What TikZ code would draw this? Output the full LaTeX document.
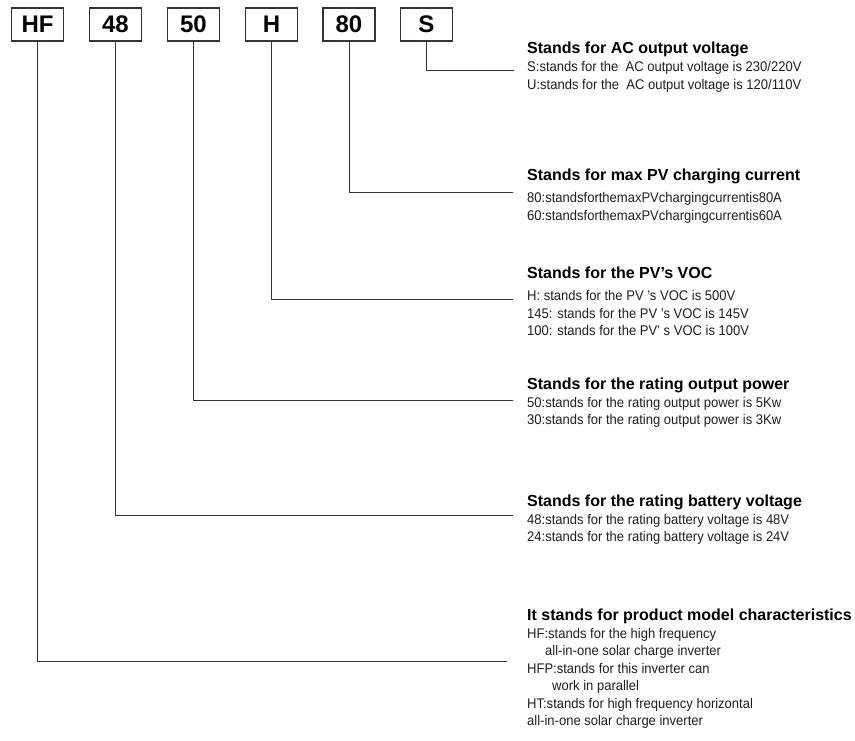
\documentclass[tikz,border=0pt]{standalone}
\usepackage{fontspec}
\setmainfont{Liberation Sans}
\newfontfamily\bodyfont[FakeStretch=0.93]{Liberation Sans}
\usetikzlibrary{positioning}
\usepackage{xcolor}
\definecolor{wire}{HTML}{3A3232}
\tikzset{
  codebox/.style = {rectangle, draw=wire, line width=1.3pt, inner sep=0pt,
                    minimum width=52pt, minimum height=33pt,
                    font=\fontsize{24}{28}\selectfont\bfseries},
  head/.style    = {anchor=base west, inner sep=0pt,
                    font=\fontsize{16}{18}\selectfont\bfseries},
  desc/.style    = {anchor=north west, inner sep=0pt, align=left,
                    font=\bodyfont\fontsize{14}{17.5}\selectfont, text=black!88},
  link/.style    = {draw=wire, line width=1pt},
}

\begin{document}
\begin{tikzpicture}[x=1pt,y=-1pt]
    \useasboundingbox (0,0) rectangle (855,740);
    % code boxes
    \node[codebox] (hf)  at (37.5,24.5)  {HF};
    \node[codebox] (bat) at (115.5,24.5) {48};
    \node[codebox] (pow) at (193.5,24.5) {50};
    \node[codebox] (voc) at (271.5,24.5) {H};
    \node[codebox] (cur) at (349,24.5)   {80};
    \node[codebox] (ac)  at (426.5,24.5) {S};
    % explanations
    \node[head] (acHead) at (527,53.5) {Stands for AC output voltage};
    \node[desc] (acText) at (527,59.5) {\strut S:stands for the\ \ AC output voltage is 230/220V\\
      \strut U:stands for the\ \ AC output voltage is 120/110V};
    \node[head] (curHead) at (527,180.7) {Stands for max PV charging current};
    \node[desc] (curText) at (527,190.5) {\strut 80:standsforthemaxPVchargingcurrentis80A\\
      \strut 60:standsforthemaxPVchargingcurrentis60A};
    \node[head] (vocHead) at (527,278.3) {Stands for the PV’s VOC};
    \node[desc] (vocText) at (527,288.5) {\strut H: stands for the PV ’s VOC is 500V\\
      \strut 145: stands for the PV ’s VOC is 145V\\
      \strut 100: stands for the PV’ s VOC is 100V};
    \node[head] (powHead) at (527,389.3) {Stands for the rating output power};
    \node[desc] (powText) at (527,395) {\strut 50:stands for the rating output power is 5Kw\\
      \strut 30:stands for the rating output power is 3Kw};
    \node[head] (batHead) at (527,506) {Stands for the rating battery voltage};
    \node[desc] (batText) at (527,511.8) {\strut 48:stands for the rating battery voltage is 48V\\
      \strut 24:stands for the rating battery voltage is 24V};
    \node[head] (hfHead) at (527,620.7) {It stands for product model characteristics};
    \node[desc] (hfText) at (527,626) {\strut HF:stands for the high frequency\\
      \strut\hspace{18pt}all-in-one solar charge inverter\\
      \strut HFP:stands for this inverter can\\
      \strut\hspace{25pt}work in parallel\\
      \strut HT:stands for high frequency horizontal\\
      \strut all-in-one solar charge inverter};
    % leader lines
    \coordinate (acEnd)  at (514,70.7);
    \coordinate (curEnd) at (513,192.7);
    \coordinate (vocEnd) at (513,299);
    \coordinate (powEnd) at (513,400.7);
    \coordinate (batEnd) at (513,515);
    \coordinate (hfEnd)  at (507,661);
    \draw[link] (ac.south)  |- (acEnd);
    \draw[link] (cur.south) |- (curEnd);
    \draw[link] (voc.south) |- (vocEnd);
    \draw[link] (pow.south) |- (powEnd);
    \draw[link] (bat.south) |- (batEnd);
    \draw[link] (hf.south)  |- (hfEnd);
\end{tikzpicture}
\end{document}
